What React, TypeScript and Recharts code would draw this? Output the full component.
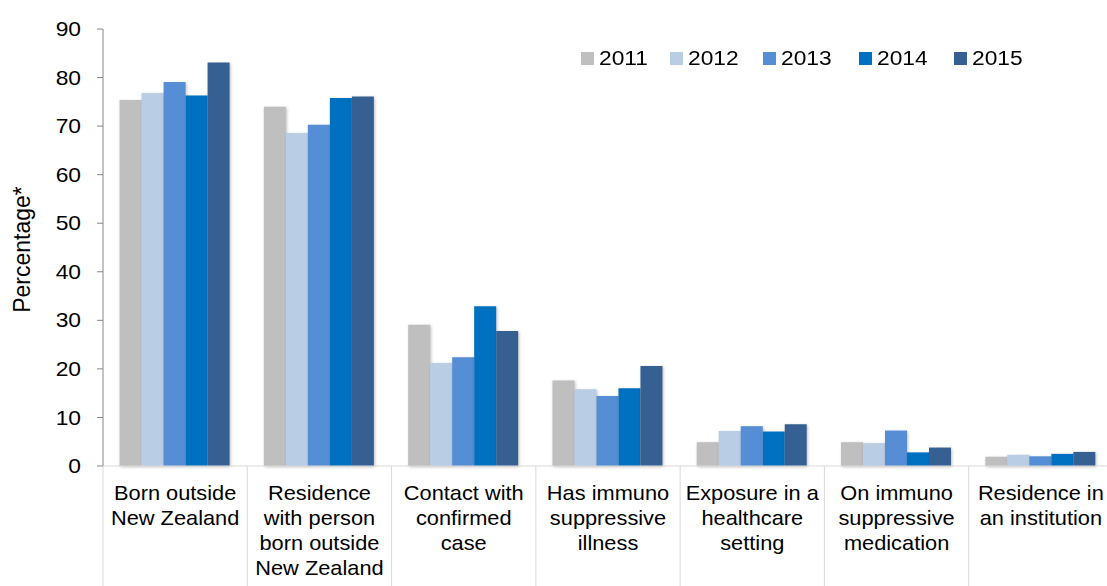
import React from 'react';
import { BarChart, Bar, XAxis, YAxis, Legend } from 'recharts';

const categories = [
  'Born outside\nNew Zealand',
  'Residence\nwith person\nborn outside\nNew Zealand',
  'Contact with\nconfirmed\ncase',
  'Has immuno\nsuppressive\nillness',
  'Exposure in a\nhealthcare\nsetting',
  'On immuno\nsuppressive\nmedication',
  'Residence in\nan institution',
];
const years = ['2011', '2012', '2013', '2014', '2015'];
const colors = ['#BFBFBF', '#B9CDE5', '#558ED5', '#0070C0', '#376092'];
const v2011 = [75.4, 74.0, 29.1, 17.6, 4.9, 4.9, 1.9];
const v2012 = [76.8, 68.6, 21.2, 15.8, 7.2, 4.7, 2.3];
const v2013 = [79.1, 70.3, 22.4, 14.4, 8.2, 7.3, 2.0];
const v2014 = [76.3, 75.8, 32.9, 16.0, 7.1, 2.8, 2.5];
const v2015 = [83.1, 76.1, 27.8, 20.6, 8.6, 3.8, 2.9];
const yTicks = [0, 10, 20, 30, 40, 50, 60, 70, 80, 90];

const series = [v2011, v2012, v2013, v2014, v2015];
const data = categories.map((c, i) => {
  const row: Record<string, string | number> = { name: c };
  years.forEach((y, k) => {
    row[y] = series[k][i];
  });
  return row;
});

const FONT = 'Liberation Sans, Arial, sans-serif';
const SX = 1.14;
const SX_CAT = 1.09;

const XTick = (props: any) => {
  const { x, y, payload } = props;
  const lines = String(payload.value).split('\n');
  const half = payload.offset ?? 72.1;
  return (
    <g>
      <line x1={x - half} x2={x - half} y1={y - 8} y2={y + 120} stroke="#D9D9D9" strokeWidth={1} />
      <text
        transform={`translate(${x},${y}) scale(${SX_CAT},1)`}
        textAnchor="middle"
        fontFamily={FONT}
        fontSize={20}
        fill="#000"
      >
        {lines.map((l, i) => (
          <tspan key={i} x={0} y={26 + i * 25}>
            {l}
          </tspan>
        ))}
      </text>
    </g>
  );
};

const YTick = (props: any) => {
  const { x, y, payload } = props;
  return (
    <text
      transform={`translate(${x},${y}) scale(${SX},1)`}
      textAnchor="end"
      dy="0.355em"
      fontFamily={FONT}
      fontSize={20}
      fill="#000"
    >
      {payload.value}
    </text>
  );
};

const legendLefts = [0, 89, 182, 278, 373];

const LegendContent = () => (
  <div style={{ position: 'relative', height: 26, fontFamily: FONT, fontSize: 20, color: '#000' }}>
    {years.map((y, i) => (
      <div
        key={y}
        style={{ position: 'absolute', left: legendLefts[i], top: 0, display: 'flex', alignItems: 'center', height: 26 }}
      >
        <span style={{ display: 'inline-block', width: 13, height: 13, background: colors[i], marginRight: 5 }} />
        <span style={{ display: 'inline-block', transform: `scaleX(${SX})`, transformOrigin: 'left center', lineHeight: '26px' }}>
          {y}
        </span>
      </div>
    ))}
  </div>
);

export default function App() {
  return (
    <div style={{ position: 'fixed', left: 0, top: 0, width: 1107, height: 586, overflow: 'hidden', background: '#fff' }}>
      <style>{`html,body{margin:0;padding:0;overflow:hidden;}`}</style>
      <BarChart
        width={1113}
        height={586}
        data={data}
        margin={{ top: 29, right: 0, bottom: 0, left: 0 }}
        barCategoryGap="11.5%"
        barGap={0}
      >
        <XAxis
          dataKey="name"
          height={120}
          axisLine={{ stroke: '#D9D9D9' }}
          tickLine={false}
          interval={0}
          tick={<XTick />}
        />
        <YAxis
          width={103}
          domain={[0, 90]}
          ticks={yTicks}
          interval={0}
          tickSize={6}
          tickMargin={16}
          axisLine={{ stroke: '#868686' }}
          tickLine={{ stroke: '#868686' }}
          tick={<YTick />}
          label={({ viewBox }: any) => {
            const cx = 22;
            const cy = viewBox.y + viewBox.height / 2 + 2;
            return (
              <text
                transform={`translate(${cx},${cy}) rotate(-90)`}
                textAnchor="middle"
                dominantBaseline="central"
                fontFamily={FONT}
                fontSize={23}
                fill="#000"
              >
                Percentage*
              </text>
            );
          }}
        />
        <Legend
          content={<LegendContent />}
          verticalAlign="middle"
          align="center"
          wrapperStyle={{ position: 'absolute', top: 45, left: 581, width: 480, height: 26 }}
        />
        {years.map((y, i) => (
          <Bar
            key={y}
            dataKey={y}
            fill={colors[i]}
            isAnimationActive={false}
            style={{ filter: 'drop-shadow(1.5px 1.5px 1.5px rgba(0,0,0,0.25))' }}
          />
        ))}
      </BarChart>
    </div>
  );
}
